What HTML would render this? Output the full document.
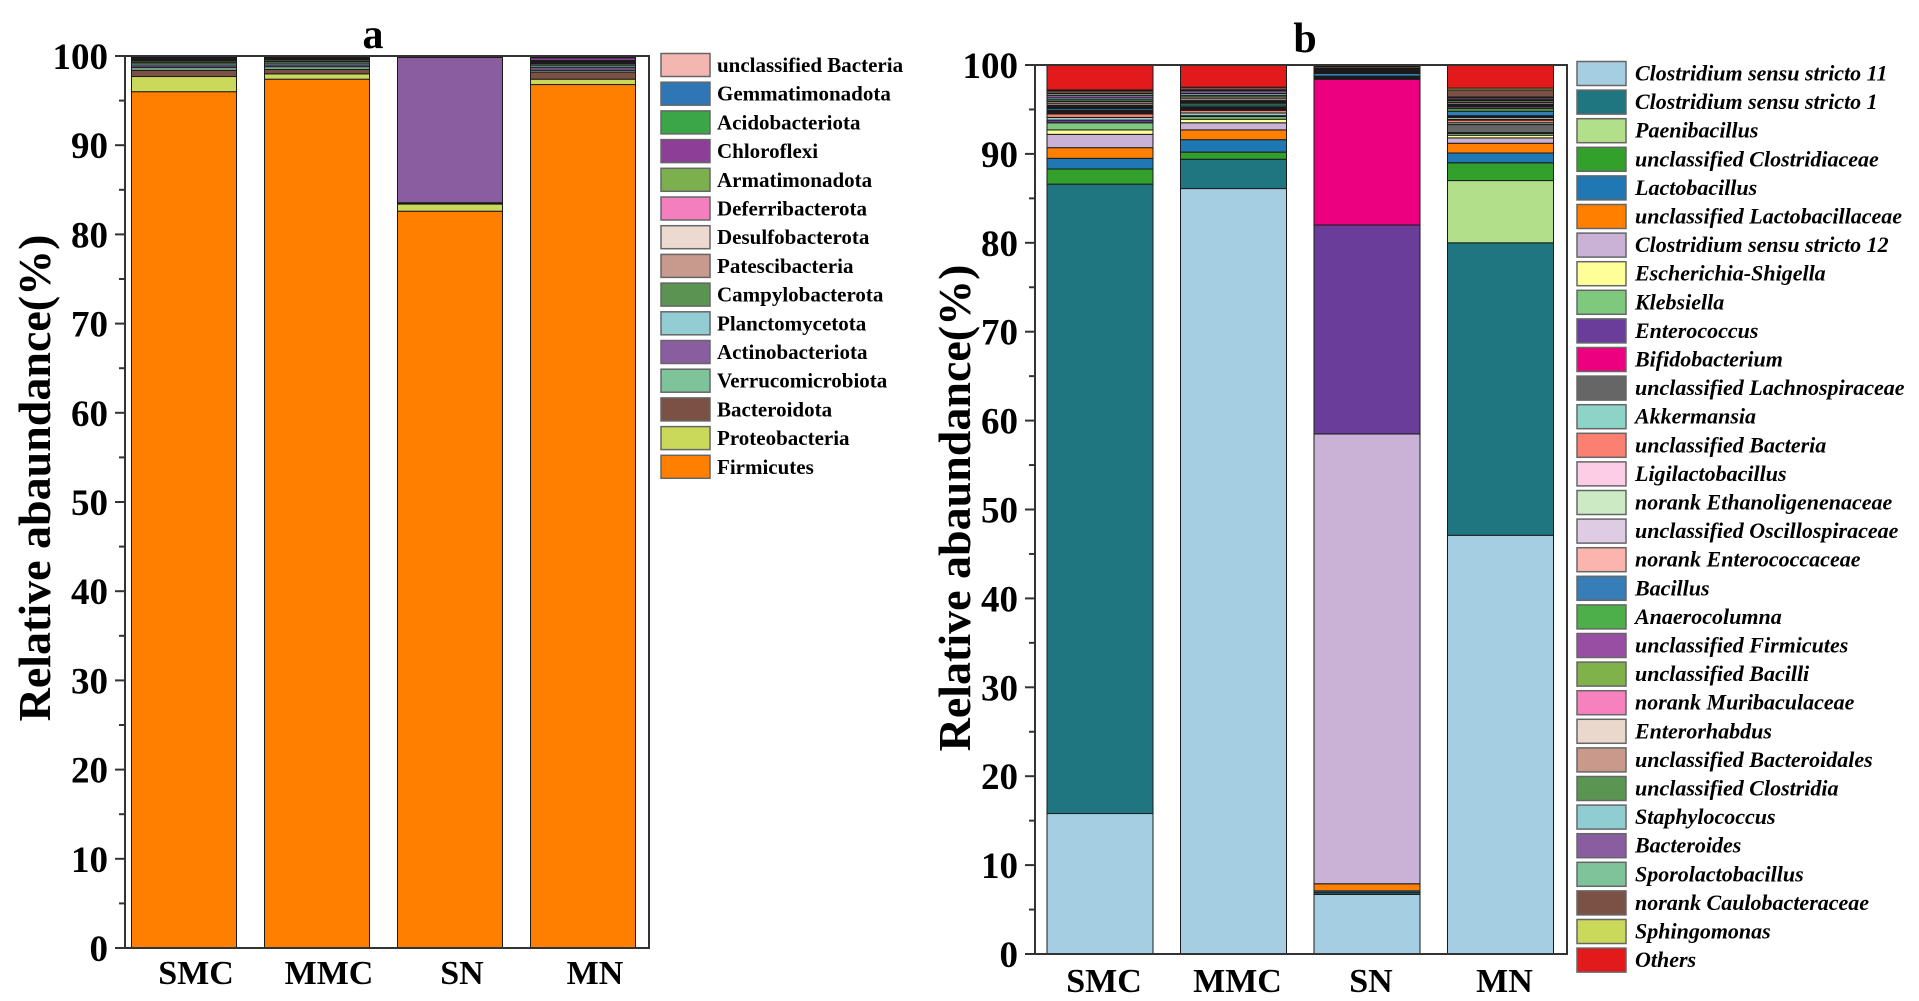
<!DOCTYPE html>
<html><head><meta charset="utf-8">
<style>
html,body{margin:0;padding:0;background:#fff;}
svg{display:block;font-family:"Liberation Serif",serif;font-weight:bold;}
</style></head>
<body>
<svg id="chart" width="1919" height="1001" viewBox="0 0 1919 1001" xmlns="http://www.w3.org/2000/svg"></svg>
<script>
const categories = ["SMC","MMC","SN","MN"];
const yTicks = [0,10,20,30,40,50,60,70,80,90,100];

const phylaA = ["Firmicutes","Proteobacteria","Bacteroidota","Verrucomicrobiota","Actinobacteriota","Planctomycetota","Campylobacterota","Patescibacteria","Desulfobacterota","Deferribacterota","Armatimonadota","Chloroflexi","Acidobacteriota","Gemmatimonadota","unclassified Bacteria"];
const colorsA = ["#ff7f00","#cbd95a","#7b5045","#7fc39a","#8a5ca0","#92cdd4","#5a9352","#c79a8d","#ecd9cf","#f37fbe","#7cb04f","#8d3f98","#3aa648","#2e76b6","#f4b6b0"];
const valsA_SMC = [96.0,1.7,0.7,0.3,0.2,0.2,0.2,0.15,0.1,0.1,0.1,0.1,0.05,0.05,0.05];
const valsA_MMC = [97.4,0.6,0.5,0.3,0.2,0.2,0.2,0.15,0.1,0.1,0.1,0.05,0.05,0.03,0.02];
const valsA_SN  = [82.6,0.8,0.1,0.05,16.3,0.05,0.03,0.02,0.01,0.01,0.01,0.01,0.01,0.0,0.0];
const valsA_MN  = [96.8,0.6,0.8,0.2,0.3,0.2,0.2,0.1,0.1,0.1,0.1,0.3,0.1,0.05,0.05];

const generaB = ["Clostridium sensu stricto 11","Clostridium sensu stricto 1","Paenibacillus","unclassified Clostridiaceae","Lactobacillus","unclassified Lactobacillaceae","Clostridium sensu stricto 12","Escherichia-Shigella","Klebsiella","Enterococcus","Bifidobacterium","unclassified Lachnospiraceae","Akkermansia","unclassified Bacteria","Ligilactobacillus","norank Ethanoligenenaceae","unclassified Oscillospiraceae","norank Enterococcaceae","Bacillus","Anaerocolumna","unclassified Firmicutes","unclassified Bacilli","norank Muribaculaceae","Enterorhabdus","unclassified Bacteroidales","unclassified Clostridia","Staphylococcus","Bacteroides","Sporolactobacillus","norank Caulobacteraceae","Sphingomonas","Others"];
const colorsB = ["#a6cee3","#1f7680","#b2df8a","#33a02c","#1f78b4","#ff7f00","#cab2d6","#ffff99","#7fc97f","#6a3d9a","#ec007f","#666666","#8dd3c7","#fb8072","#fccde5","#ccebc5","#decbe4","#fbb4ae","#377eb8","#4daf4a","#984ea3","#7fb24a","#f781bf","#ead8cc","#c99a8b","#5a9652","#8fcdd3","#8a5ca0","#7fc39a","#7b5045","#cbd95a","#e31a1c"];
const valsB_SMC = [15.8,70.8,0,1.7,1.2,1.2,1.5,0.5,0.8,0.3,0,0,0.3,0.4,0.1,0.1,0.1,0.1,0.2,0.1,0.1,0.1,0.1,0.2,0.2,0.2,0.2,0.3,0.2,0.3,0.1,2.8];
const valsB_MMC = [86.1,3.3,0,0.8,1.4,1.1,0.8,0.4,0.3,0.1,0,0,0.3,0.3,0.1,0.1,0.1,0.1,0.2,0.2,0.1,0.1,0.1,0.2,0.2,0.2,0.2,0.3,0.1,0.3,0,2.5];
const valsB_SN  = [6.7,0.2,0,0,0.2,0.8,50.6,0,0,23.5,16.4,0.05,0.05,0.05,0.05,0.05,0.05,0.05,0.3,0.1,0.05,0.05,0.05,0.05,0.05,0.1,0.05,0.05,0.05,0.2,0.1,0.05];
const valsB_MN  = [47.1,32.9,7.0,2.0,1.1,1.1,0.6,0.3,0.2,0.1,0,0.9,0.2,0.3,0.1,0.2,0.1,0.1,0.5,0.3,0.2,0.1,0.1,0.1,0.2,0.2,0.1,0.2,0.1,0.8,0.2,2.6];

const NS="http://www.w3.org/2000/svg";
const svg=document.getElementById('chart');
function mk(tag,attrs,parent){const e=document.createElementNS(NS,tag);for(const k in attrs)e.setAttribute(k,attrs[k]);(parent||svg).appendChild(e);return e;}

function drawPanel(cfg){
  const g=mk('g',{});
  
  
  const y=v=>cfg.bottom-(cfg.bottom-cfg.top)*v/100;
  const xc=i=>cfg.firstCenter+i*cfg.step;
  cfg.series.forEach((vals,ci)=>{
    let acc=0;
    vals.forEach((v,si)=>{
      if(v<=0)return;
      const r=mk('rect',{x:xc(ci)-cfg.bw/2,y:y(acc+v),width:cfg.bw,height:y(acc)-y(acc+v),fill:cfg.colors[si],stroke:'#1a1a1a','stroke-width':1},g);
      
      
      acc+=v;
    });
  });
  const frame=mk('rect',{x:cfg.left,y:cfg.top,width:cfg.right-cfg.left,height:cfg.bottom-cfg.top,fill:'none',stroke:'#333','stroke-width':2},g);
  
  
  for(let v=0;v<=100;v+=5){
    const major=v%10===0;
    mk('line',{x1:cfg.left-(major?10:6),x2:cfg.left,y1:y(v),y2:y(v),stroke:'#333','stroke-width':2},g);
  }
  yTicks.forEach(v=>{
    const t=mk('text',{x:cfg.left-17,y:y(v)+13,'text-anchor':'end','font-size':37},g);
    t.textContent=v;
    
    
  });
  categories.forEach((c,i)=>{
    const t=mk('text',{x:xc(i)+cfg.xlOff,y:cfg.xlY,'text-anchor':'middle','font-size':34},g);
    t.textContent=c;
    
    
  });
  const yt=mk('text',{x:0,y:0,'text-anchor':'middle','font-size':46,transform:`translate(${cfg.ytX},${cfg.ytY}) rotate(-90)`},g);
  yt.textContent='Relative abaundance(%)';
  
  
  const tt=mk('text',{x:cfg.titleX,y:cfg.titleY,'text-anchor':'middle','font-size':42},g);
  tt.textContent=cfg.title;
  
  
  const n=cfg.labels.length;
  for(let k=0;k<n;k++){
    const si=cfg.legTopFirst?k:n-1-k;
    const cy=cfg.legY0+k*cfg.legStep;
    const lg=mk('g',{},g);
    
    
    mk('rect',{x:cfg.legX,y:cy-cfg.legBox/2,width:cfg.legW,height:cfg.legBox,fill:cfg.colors[si],stroke:'#666','stroke-width':1.5},lg);
    const t=mk('text',{x:cfg.legTX,y:cy+7,'font-size':cfg.legFont,'font-style':cfg.italic?'italic':'normal'},lg);
    t.textContent=cfg.labels[si];
  }
}

drawPanel({name:'panel-a',title:'a',titleX:373,titleY:48,left:125,right:649,top:56,bottom:948,
  firstCenter:184,step:133,bw:105,xlOff:12,xlY:984,series:[valsA_SMC,valsA_MMC,valsA_SN,valsA_MN],
  colors:colorsA,labels:phylaA,ytX:50,ytY:478,
  legX:661,legW:49,legBox:23,legTX:717,legY0:65,legStep:28.7,legFont:21,italic:false,legTopFirst:false});

drawPanel({name:'panel-b',title:'b',titleX:1305,titleY:52,left:1035,right:1567,top:65,bottom:954,
  firstCenter:1100,step:133.5,bw:106,xlOff:4,xlY:992,series:[valsB_SMC,valsB_MMC,valsB_SN,valsB_MN],
  colors:colorsB,labels:generaB,ytX:970,ytY:508,
  legX:1577,legW:49,legBox:24,legTX:1635,legY0:73.5,legStep:28.6,legFont:22,italic:true,legTopFirst:true});
</script>
</body></html>
